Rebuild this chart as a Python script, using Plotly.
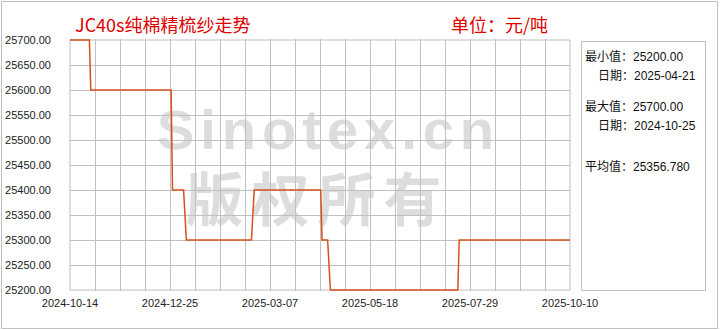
import plotly.graph_objects as go
import pandas as pd

# ---- data ----
dates = ["2024-10-14", "2024-10-28", "2024-10-29", "2024-12-26", "2024-12-27",
         "2025-01-04", "2025-01-06", "2025-02-22", "2025-02-24", "2025-04-13",
         "2025-04-14", "2025-04-18", "2025-04-20", "2025-07-21", "2025-07-22",
         "2025-10-10"]
prices = [25700, 25700, 25600, 25600, 25400,
          25400, 25300, 25300, 25400, 25400,
          25300, 25300, 25200, 25200, 25300,
          25300]

x_start = "2024-10-14"
x_end = "2025-10-10"
x_tick_labels = ["2024-10-14", "2024-12-25", "2025-03-07", "2025-05-18",
                 "2025-07-29", "2025-10-10"]
y_min, y_max, y_step = 25200, 25700, 50

title_text = "JC40s纯棉精梳纱走势"
unit_text = "单位：元/吨"
min_value_text = "25200.00"
min_date_text = "2025-04-21"
max_value_text = "25700.00"
max_date_text = "2024-10-25"
avg_value_text = "25356.780"
watermark_1 = "Sinotex.cn"
watermark_2 = "版权所有"

# ---- styling ----
LINE_COLOR = "#d8501c"
GRID = "#c0c0c0"
RED = "#e00000"
WM = "#dddddd"
FONT = "Liberation Sans, Noto Sans CJK SC"
CJK = "Noto Sans CJK SC, Liberation Sans"

major_ticks = pd.date_range(x_start, x_end, periods=len(x_tick_labels))
minor_ticks = pd.date_range(x_start, x_end, periods=(len(x_tick_labels) - 1) * 4 + 1)

fig = go.Figure()
fig.add_trace(go.Scatter(x=dates, y=prices, mode="lines",
                         line=dict(color=LINE_COLOR, width=1.5),
                         hoverinfo="skip", showlegend=False))

W, H = 720, 330
L, R, T, B = 70, 150, 39, 39
pw, ph = W - L - R, H - T - B


def px(xp):
    return (xp - L) / pw


def py(yp):
    return (H - B - yp) / ph


shapes = [
    # outer frame
    dict(type="rect", xref="paper", yref="paper", x0=px(1.5), x1=px(717.5),
         y0=py(328.5), y1=py(1.5), line=dict(color=GRID, width=1), layer="above"),
    # stats box
    dict(type="rect", xref="paper", yref="paper", x0=px(581.5), x1=px(705.5),
         y0=py(290.5), y1=py(41.5), line=dict(color=GRID, width=1), layer="above"),
    # plot border
    dict(type="rect", xref="x domain", yref="y", x0=0, x1=1, y0=y_min, y1=y_max,
         line=dict(color=GRID, width=1), layer="below"),
    # watermarks (below grid)
    dict(type="rect", xref="x domain", yref="y domain", x0=0.0, x1=1.034,
         y0=0.54, y1=0.78, line=dict(width=0), fillcolor="rgba(0,0,0,0)", layer="below",
         label=dict(text='<b><span style="letter-spacing:6px">' + watermark_1 + '</span></b>',
                    textposition="middle center",
                    font=dict(family="Liberation Sans", size=56, color=WM))),
    dict(type="rect", xref="x domain", yref="y domain", x0=0.0, x1=0.99,
         y0=0.22, y1=0.46, line=dict(width=0), fillcolor="rgba(0,0,0,0)", layer="below",
         label=dict(text='<b><span style="letter-spacing:8px">' + watermark_2 + '</span></b>',
                    textposition="middle center",
                    font=dict(family="Noto Sans CJK SC", size=58, color=WM))),
]

annotations = [
    dict(text=title_text, x=px(73), y=py(24), xref="paper", yref="paper",
         xanchor="left", yanchor="middle", showarrow=False,
         font=dict(family=CJK, size=18, color=RED)),
    dict(text=unit_text, x=px(449), y=py(24), xref="paper", yref="paper",
         xanchor="left", yanchor="middle", showarrow=False,
         font=dict(family=CJK, size=18, color=RED)),
]
stats = [
    ("最小值：" + min_value_text, 583, 56),
    ("日期：" + min_date_text, 596, 76),
    ("最大值：" + max_value_text, 583, 106),
    ("日期：" + max_date_text, 596, 126),
    ("平均值：" + avg_value_text, 583, 166),
]
for txt, xp, yp in stats:
    annotations.append(dict(text=txt, x=px(xp), y=py(yp), xref="paper", yref="paper",
                            xanchor="left", yanchor="middle", showarrow=False,
                            font=dict(family=FONT, size=12, color="#111111")))

fig.update_layout(
    width=W, height=H,
    margin=dict(l=L, r=R, t=T, b=B, autoexpand=False),
    paper_bgcolor="white", plot_bgcolor="rgba(0,0,0,0)",
    shapes=shapes, annotations=annotations,
    xaxis=dict(type="date", range=[x_start, x_end], automargin=False,
               tickmode="array", tickvals=major_ticks, ticktext=x_tick_labels,
               showgrid=True, gridcolor=GRID, gridwidth=1,
               minor=dict(tickmode="array", tickvals=minor_ticks, showgrid=True,
                          gridcolor=GRID, gridwidth=1, ticks=""),
               showline=False, zeroline=False, ticks="",
               ticklabelstandoff=4,
               tickfont=dict(family=FONT, size=11, color="#222222"),
               layer="below traces"),
    yaxis=dict(range=[y_min - 2, y_max + 2], automargin=False,
               tickmode="linear", tick0=y_min, dtick=y_step,
               tickformat=".2f", showgrid=True, gridcolor=GRID, gridwidth=1,
               showline=False, zeroline=False, ticks="",
               ticklabelstandoff=18,
               tickfont=dict(family=FONT, size=11, color="#222222"),
               layer="below traces"),
)

fig.write_html("out.html")
